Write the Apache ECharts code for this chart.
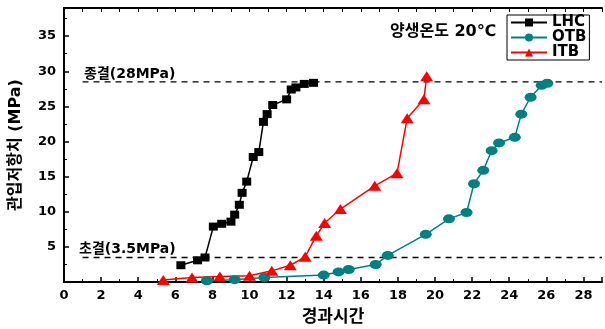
<!DOCTYPE html>
<html>
<head>
<meta charset="utf-8">
<script src="https://cdn.jsdelivr.net/npm/echarts@6/dist/echarts.min.js"></script>
<style>
  html, body { margin: 0; padding: 0; background: #fff; }
  #chart { width: 605px; height: 329px; }
</style>
</head>
<body>
<div id="chart"></div>
<script>
// 경과시간 (h), 관입저항치 (MPa)
var lhcTime = [6.3, 7.2, 7.6, 8.05, 8.5, 9.0, 9.2, 9.45, 9.6, 9.85, 10.2, 10.5, 10.75, 10.95, 11.25, 12.0, 12.25, 12.5, 12.95, 13.45]
var lhcValue = [2.4, 3.1, 3.5, 7.9, 8.3, 8.6, 9.6, 11.0, 12.7, 14.3, 17.8, 18.5, 22.8, 23.9, 25.2, 26.0, 27.4, 27.7, 28.2, 28.35]

var otbTime = [7.7, 9.2, 10.8, 14.0, 14.8, 15.35, 16.8, 17.45, 19.5, 20.75, 21.7, 22.1, 22.6, 23.05, 23.45, 24.3, 24.65, 25.15, 25.75, 26.05]
var otbValue = [0.2, 0.35, 0.65, 1.0, 1.45, 1.8, 2.5, 3.8, 6.8, 9.0, 9.9, 14.0, 15.9, 18.7, 19.8, 20.6, 23.9, 26.3, 28.0, 28.3]

var itbTime = [5.35, 6.9, 8.4, 10.0, 11.2, 12.2, 13.0, 13.6, 14.05, 14.9, 16.75, 17.95, 18.5, 19.4, 19.55]
var itbValue = [0.3, 0.65, 0.8, 0.9, 1.6, 2.4, 3.6, 6.6, 8.4, 10.4, 13.7, 15.5, 23.3, 26.0, 29.3]

var initialSet = 3.5   // 초결
var finalSet = 28.5    // 종결
var refStart = 1
var refEnd = 29

function pairs(xs, ys){
    return xs.map(function(x, i){ return [x, ys[i]] })
}

var numFont = 'DejaVu Sans'
var krFont = 'DejaVu Sans, Noto Sans CJK KR'

var e = echarts.init(document.getElementById('chart'))
var option = {
    animation: false,
    grid: {
        left: 63,
        right: 0,
        top: 8,
        bottom: 43
    },
    legend: {
        data: ['LHC', 'OTB', 'ITB'],
        orient: 'vertical',
        left: 507,
        top: 15,
        itemWidth: 36,
        itemHeight: 10,
        itemGap: 0,
        padding: [0, 3, 0, 3],
        borderColor: '#000',
        borderWidth: 1,
        borderRadius: 0,
        textStyle: {
            fontFamily: numFont,
            fontWeight: 'bold',
            fontSize: 15,
            lineHeight: 12,
            color: '#000'
        }
    },
    xAxis: [
        {
            type: 'value',
            min: 0,
            max: 29,
            interval: 2,
            name: '경과시간',
            nameLocation: 'middle',
            nameGap: 18,
            nameTextStyle: {
                fontFamily: 'Noto Sans CJK KR',
                fontWeight: 'bold',
                fontSize: 17,
                color: '#000'
            },
            axisLine: { lineStyle: { color: '#000', width: 2 } },
            axisTick: { inside: true, length: 5, lineStyle: { width: 1.5 } },
            minorTick: { show: true, splitNumber: 2, length: 3, lineStyle: { color: '#000' } },
            splitLine: { show: false },
            axisLabel: {
                margin: 7,
                fontFamily: numFont,
                fontWeight: 'bold',
                fontSize: 13,
                color: '#000',
                formatter: function(v){ return v % 2 === 0 ? String(v) : '' }
            }
        },
        {
            type: 'value',
            position: 'top',
            min: 0,
            max: 29,
            interval: 1,
            axisLine: { show: true, onZero: false, lineStyle: { color: '#000', width: 2 } },
            axisTick: { show: true, inside: true, length: 4 },
            axisLabel: { show: false },
            splitLine: { show: false }
        }
    ],
    yAxis: {
        type: 'value',
        min: 0,
        max: 39,
        interval: 5,
        name: '관입저항치 (MPa)',
        nameLocation: 'middle',
        nameGap: 40,
        nameTextStyle: {
            fontFamily: krFont,
            fontWeight: 'bold',
            fontSize: 16,
            color: '#000'
        },
        axisLine: { show: true, lineStyle: { color: '#000', width: 2 } },
        axisTick: { inside: true, length: 5, lineStyle: { width: 1.5 } },
        minorTick: { show: true, splitNumber: 2, length: 3, lineStyle: { color: '#000' } },
        splitLine: { show: false },
        axisLabel: {
            margin: 8,
            fontFamily: numFont,
            fontWeight: 'bold',
            fontSize: 13,
            color: '#000',
            formatter: function(v){ return (v > 0 && v % 5 === 0) ? String(v) : '' }
        }
    },
    graphic: [
        {
            type: 'text', left: 390, top: 24,
            style: { text: '양생온도 20℃', font: 'bold 16px ' + krFont, fill: '#000' }
        },
        {
            type: 'text', left: 84, top: 67,
            style: { text: '종결(28MPa)', font: 'bold 14px ' + krFont, fill: '#000' }
        },
        {
            type: 'text', left: 79, top: 242,
            style: { text: '초결(3.5MPa)', font: 'bold 14px ' + krFont, fill: '#000' }
        }
    ],
    series: [
        {
            name: 'final',
            type: 'line',
            data: [[refStart, finalSet], [refEnd, finalSet]],
            symbol: 'none',
            silent: true,
            lineStyle: { color: '#000', width: 1.3, type: [6, 5] }
        },
        {
            name: 'initial',
            type: 'line',
            data: [[refStart, initialSet], [refEnd, initialSet]],
            symbol: 'none',
            silent: true,
            lineStyle: { color: '#000', width: 1.3, type: [6, 5] }
        },
        {
            name: 'LHC',
            type: 'line',
            data: pairs(lhcTime, lhcValue),
            symbol: 'rect',
            symbolSize: [9, 8],
            clip: false,
            itemStyle: { color: '#000' },
            lineStyle: { color: '#000', width: 1.5 }
        },
        {
            name: 'OTB',
            type: 'line',
            data: pairs(otbTime, otbValue),
            symbol: 'circle',
            symbolSize: [12, 9],
            clip: false,
            itemStyle: { color: '#008080' },
            lineStyle: { color: '#008080', width: 1.5 }
        },
        {
            name: 'ITB',
            type: 'line',
            data: pairs(itbTime, itbValue),
            symbol: 'triangle',
            symbolSize: [13, 10],
            clip: false,
            itemStyle: { color: '#ff0000' },
            lineStyle: { color: '#ff0000', width: 1.5 }
        }
    ]
}
e.setOption(option)
</script>
</body>
</html>
